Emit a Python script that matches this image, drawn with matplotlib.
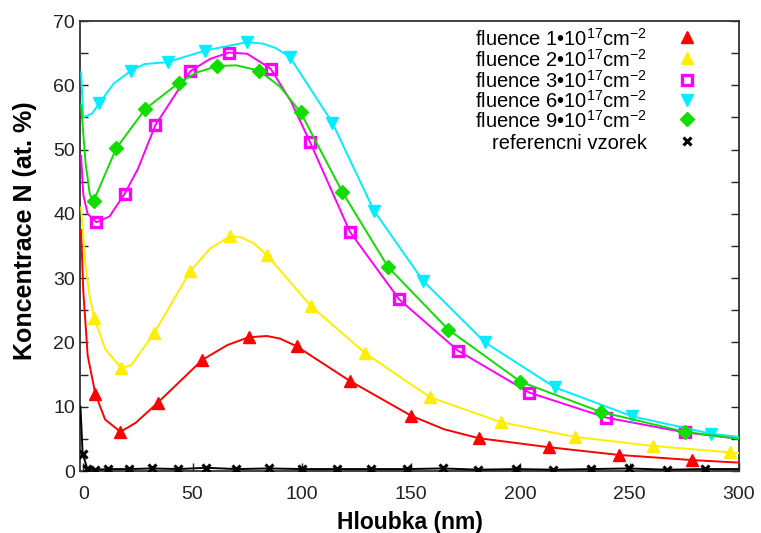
import matplotlib
matplotlib.use("Agg")
import matplotlib.pyplot as plt
from matplotlib.ticker import MultipleLocator

plt.rcParams['font.family'] = ['Liberation Sans', 'DejaVu Sans']
plt.rcParams['mathtext.fontset'] = 'custom'
plt.rcParams['mathtext.rm'] = 'Liberation Sans'
plt.rcParams['mathtext.it'] = 'Liberation Sans'

# Depth profiles (depth in nm, N concentration in at. %)
# markers are the points listed in *_mk (indices into the arrays)
f1_x = [-1, 0, 2, 5.5, 10, 17, 24, 34, 54.5, 66, 75.6, 84, 90, 97.6, 122, 150, 165, 181, 213, 245, 278.5, 300]
f1_y = [37.5, 28, 18, 12.0, 8.0, 6.1, 7.5, 10.6, 17.3, 19.6, 20.8, 21.0, 20.6, 19.4, 14.0, 8.6, 6.5, 5.1, 3.7, 2.5, 1.7, 1.3]
f1_mk = [3, 5, 7, 8, 10, 13, 14, 15, 17, 18, 19, 20]

f2_x = [-1, 1, 3, 5, 10, 17.4, 22, 32.5, 49, 58, 67, 72, 78, 84, 104, 128.7, 158.5, 191, 225, 260.6, 296, 300]
f2_y = [41, 32, 27, 23.8, 19, 16.0, 16.5, 21.5, 31.1, 34.6, 36.5, 36.4, 35.4, 33.6, 25.7, 18.4, 11.5, 7.6, 5.3, 3.9, 2.9, 2.8]
f2_mk = [3, 5, 7, 8, 10, 13, 14, 15, 16, 17, 18, 19, 20]

f3_x = [-1, 0, 2, 6, 12, 18.9, 25, 33, 49, 58, 66.7, 75, 85.7, 95, 103.7, 122, 144.5, 171.5, 204, 239.3, 275.3, 300]
f3_y = [49, 43, 40, 38.7, 39.6, 43.1, 47, 53.8, 62.2, 64.1, 65.1, 64.9, 62.6, 57.5, 51.2, 37.2, 26.7, 18.7, 12.2, 8.3, 6.0, 5.0]
f3_mk = [3, 5, 7, 8, 10, 12, 14, 15, 16, 17, 18, 19, 20]

f6_x = [-1, 0, 4, 7.3, 14, 22, 28, 38.6, 55.7, 74.7, 82, 88, 94.5, 113.9, 133, 155.4, 183.8, 215.8, 251.2, 287.2, 300]
f6_y = [62, 55, 55.6, 57.2, 60.3, 62.3, 63.3, 63.6, 65.4, 66.7, 66.5, 65.8, 64.4, 54.2, 40.5, 29.6, 20.0, 13.0, 8.5, 5.8, 5.3]
f6_mk = [3, 5, 7, 8, 9, 12, 13, 14, 15, 16, 17, 18, 19]

f9_x = [-1, 1, 3, 4.7, 15.1, 28.3, 43.8, 52, 61.4, 70, 80.3, 90, 99.4, 118.5, 139.5, 167, 200, 236.7, 275.3, 300]
f9_y = [57, 48, 43, 42.0, 50.2, 56.3, 60.4, 62.0, 63.0, 63.1, 62.3, 59.8, 55.8, 43.4, 31.7, 22.0, 13.9, 9.2, 6.1, 5.0]
f9_mk = [3, 4, 5, 6, 8, 10, 12, 13, 14, 15, 16, 17, 18]

ref_x = [-1.3, -0.3, 1.9, 5.5, 11.3, 20.9, 31.4, 43.4, 56.2, 70.1, 84.9, 100.2, 115.9, 131.5,
         148.3, 164.6, 180.8, 197.9, 215, 232.3, 249.5, 267, 284.6, 300]
ref_y = [10, 2.7, 0.3, 0.2, 0.3, 0.3, 0.4, 0.3, 0.5, 0.3, 0.4, 0.3, 0.3, 0.3,
         0.3, 0.4, 0.2, 0.3, 0.2, 0.3, 0.4, 0.2, 0.3, 0.3]
ref_mk = list(range(1, 23))

labels = ["fluence 1\u202210$^{17}$cm$^{-2}$",
          "fluence 2\u202210$^{17}$cm$^{-2}$",
          "fluence 3\u202210$^{17}$cm$^{-2}$",
          "fluence 6\u202210$^{17}$cm$^{-2}$",
          "fluence 9\u202210$^{17}$cm$^{-2}$",
          "referencni vzorek"]

fig = plt.figure(figsize=(7.61, 5.33), dpi=100)
ax = fig.add_axes([80 / 761, 62 / 533, 659 / 761, 450 / 533])

series = [
    (f1_x, f1_y, f1_mk, '#ff0000', dict(marker='^', ms=9, mfc='#ff0000', mec='#ff0000')),
    (f2_x, f2_y, f2_mk, '#ffee00', dict(marker='^', ms=9, mfc='#ffee00', mec='#ffee00')),
    (f3_x, f3_y, f3_mk, '#ff00ff', dict(marker='s', ms=6.5, mfc='none', mec='#ff00ff', mew=2.4)),
    (f6_x, f6_y, f6_mk, '#00eeff', dict(marker='v', ms=9, mfc='#00eeff', mec='#00eeff')),
    (f9_x, f9_y, f9_mk, '#11dd00', dict(marker='D', ms=7, mfc='#11dd00', mec='#11dd00')),
    (ref_x, ref_y, ref_mk, '#000000', dict(marker='x', ms=6, mfc='#000000', mec='#000000', mew=2.2)),
]

for x, y, mk, col, mstyle in series:
    ax.plot(x, y, color=col, lw=1.4, markevery=mk, clip_on=True, zorder=3, **mstyle)

ax.set_xlim(-1.5, 300)
ax.set_ylim(0, 70)
ax.xaxis.set_major_locator(MultipleLocator(50))
ax.yaxis.set_major_locator(MultipleLocator(10))
ax.yaxis.set_minor_locator(MultipleLocator(5))
ax.tick_params(axis='both', which='both', direction='in', labelsize=14, colors='#222222')
ax.tick_params(axis='y', which='both', right=True)
ax.tick_params(which='major', length=6, width=1)
ax.tick_params(which='minor', length=6, width=1)
ax.tick_params(axis='x', pad=11)
for s in ax.spines.values():
    s.set_linewidth(1.3)
    s.set_color('#333333')

ax.set_xlabel("Hloubka (nm)", fontsize=16.5, fontweight='bold')
ax.set_ylabel("Koncentrace N (at. %)", fontsize=18, fontweight='bold')
ax.xaxis.set_label_coords(0.5008, -0.088)
ax.yaxis.set_label_coords(-0.065, 0.533)

# key drawn by hand: right aligned text, marker only
row_y = [37.3, 58.3, 80.0, 100.0, 119.3, 140.7]
for (x, y, mk, col, mstyle), lab, ry in zip(series, labels, row_y):
    ty = (471 - ry - 8) / 450
    my = (471 - ry) / 450
    ax.text(0.860, ty, lab, transform=ax.transAxes, ha='right', va='baseline', fontsize=14.5)
    ax.plot([0.9206], [my], transform=ax.transAxes, clip_on=False, ls='none', **mstyle)

fig.savefig("out.png", dpi=100)
